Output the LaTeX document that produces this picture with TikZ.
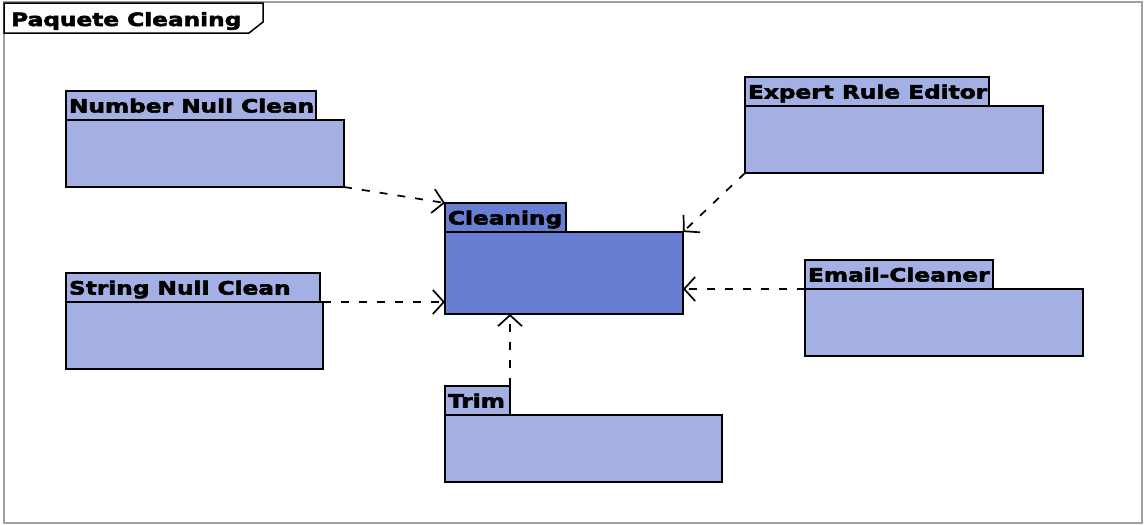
\documentclass[tikz,border=0pt]{standalone}
\usepackage{fontspec}
\newfontfamily\pkgfont{DejaVu Sans Bold}[FakeStretch=1.27, FakeBold=3]
\usetikzlibrary{arrows.meta}
\definecolor{pkglight}{RGB}{164,176,228}
\definecolor{pkgmain}{RGB}{103,126,210}
\definecolor{framegray}{RGB}{160,160,160}
\tikzset{
  pkgtab/.style={draw=black, line width=2pt, anchor=north west, inner xsep=3pt, inner ysep=0pt, outer sep=0pt,
    minimum height=30pt, text height=14.5pt, text depth=1.5pt,
    font=\pkgfont\fontsize{18.3}{18}\selectfont},
  pkgbody/.style={draw=black, line width=2pt, anchor=north west, inner sep=0pt, outer sep=0pt},
  dep/.style={dash pattern=on 8pt off 10pt, line width=1.7pt,
    -{Straight Barb[length=11pt,width=24pt,line width=1.7pt]}}
}
% one package: tab with its name, and the body below it
% #1 node name, #2 x, #3 y (tab top), #4 tab width, #5 body width, #6 fill, #7 label
\newcommand\umlpkg[7]{%
  \node[pkgtab, fill=#6, minimum width=#4pt] (#1-tab) at (#2,#3) {\makebox[\dimexpr#4pt-6pt\relax][l]{#7}};
  \node[pkgbody, fill=#6, minimum width=#5pt, minimum height=67pt] (#1) at (#2,#3+29) {};
}
\begin{document}
\begin{tikzpicture}[x=1pt,y=-1pt]
\useasboundingbox (0,0) rectangle (1144,525);
% outer frame
\draw[framegray, line width=2pt] (4,2) rectangle (1142,523);
% frame title tab
\draw[black, line width=1.5pt, fill=white] (4,3) -- (263,3) -- (263,22) -- (249,33) -- (4,33) -- cycle;
\node[anchor=base west, inner sep=0pt, font=\pkgfont\fontsize{18.3}{18}\selectfont] (title) at (11,26) {Paquete Cleaning};

% packages
\umlpkg{nnc}{66}{91}{250}{278}{pkglight}{Number Null Clean}
\umlpkg{snc}{66}{273}{254}{257}{pkglight}{String Null Clean}
\umlpkg{ere}{745}{77}{244}{298}{pkglight}{Expert Rule Editor}
\umlpkg{eml}{805}{260}{188}{278}{pkglight}{Email-Cleaner}
\umlpkg{trm}{445}{386}{65}{277}{pkglight}{Trim}
% central package, shorter body
\node[pkgtab, fill=pkgmain, minimum width=121pt] (cln-tab) at (445,203) {\makebox[115pt][l]{Cleaning}};
\node[pkgbody, fill=pkgmain, minimum width=238pt, minimum height=82pt] (cln) at (445,232) {};

% dependencies
\draw[dep] (nnc.south east) -- (cln-tab.north west);
\draw[dep] (snc.north east) -- (snc.north east -| cln.west);
\draw[dep] (ere.south west) -- (cln.north east);
\draw[dep] (eml.north west) -- (eml.north west -| cln.east);
\draw[dep] (trm-tab.north east) -- (trm-tab.north east |- cln.south);
\end{tikzpicture}
\end{document}
